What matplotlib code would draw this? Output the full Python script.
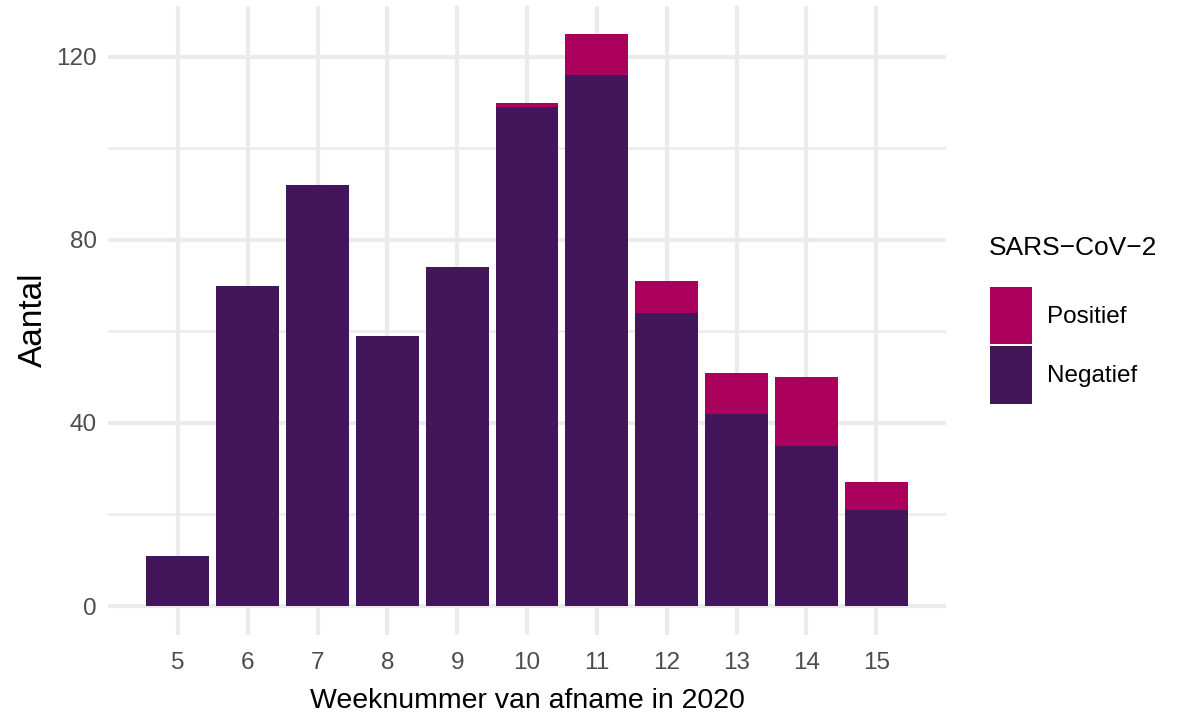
import matplotlib
matplotlib.use('Agg')
import matplotlib.pyplot as plt
from matplotlib import font_manager
from matplotlib.ticker import MultipleLocator

# data
weeks = [5, 6, 7, 8, 9, 10, 11, 12, 13, 14, 15]
negatief = [11, 70, 92, 59, 74, 109, 116, 64, 42, 35, 21]
positief = [0, 0, 0, 0, 0, 1, 9, 7, 9, 15, 6]
yticks = [0, 40, 80, 120]

neg_col = '#43155A'
pos_col = '#AA005C'
grid_col = '#EBEBEB'

# narrow font looks closer to the reference, if it is there
names = {f.name for f in font_manager.fontManager.ttflist}
if 'Liberation Sans Narrow' in names:
    fam, k = 'Liberation Sans Narrow', 1.2
else:
    fam, k = 'Liberation Sans', 1.0
plt.rcParams['font.family'] = [fam, 'DejaVu Sans']

W, H = 1183, 722
fig = plt.figure(figsize=(W / 100, H / 100), dpi=100)
ax = fig.add_axes([108 / W, 1 - 634.6 / H, 838 / W, 629.1 / H])

ax.bar(weeks, negatief, width=0.9, color=neg_col, label='Negatief', zorder=3)
ax.bar(weeks, positief, width=0.9, bottom=negatief, color=pos_col,
       label='Positief', zorder=3)

ax.set_xlim(4.0, 16.0)
ax.set_ylim(-6.25, 131.25)
ax.set_xticks(weeks)
ax.set_yticks(yticks)
ax.yaxis.set_minor_locator(MultipleLocator(20))

ax.set_axisbelow(True)
ax.grid(which='major', color=grid_col, lw=3.0)
ax.grid(which='minor', axis='y', color=grid_col, lw=1.8)
for s in ax.spines.values():
    s.set_visible(False)

tick_fs = 17.5 * k
ax.tick_params(axis='both', which='both', length=0, labelsize=tick_fs,
               labelcolor='#4D4D4D')
ax.tick_params(axis='y', pad=8)
ax.tick_params(axis='x', pad=12.5)

ax.set_xlabel('Weeknummer van afname in 2020', fontsize=20.5 * k, va='center')
ax.xaxis.set_label_coords(0.5, (634.6 - 701.5) / 629.1)
ax.set_ylabel('Aantal', fontsize=24, va='center')
ax.yaxis.set_label_coords((33 - 108) / 838, 0.5)

# legend
leg_fs = 17.5 * k
fs_px = leg_fs * 100 / 72
h, l = ax.get_legend_handles_labels()
fig.legend(h[::-1], l[::-1], loc='upper left',
           bbox_to_anchor=(990 / W, 1 - 287 / H), frameon=False,
           fontsize=leg_fs, borderpad=0, borderaxespad=0,
           handlelength=42 / fs_px, handleheight=57 / leg_fs,
           handletextpad=15 / fs_px, labelspacing=2 / fs_px)
fig.text(989 / W, 1 - 255 / H, 'SARS\u2212CoV\u22122', fontsize=19 * k,
         va='baseline', ha='left')

fig.savefig('out.png', dpi=100)
